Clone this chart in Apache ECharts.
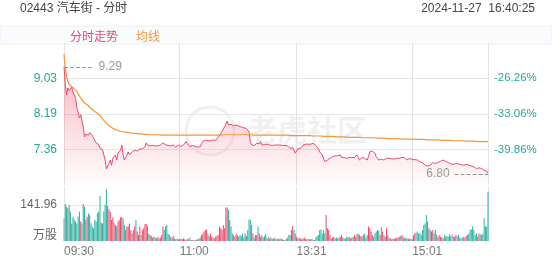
<!DOCTYPE html>
<html><head><meta charset="utf-8">
<script src="https://cdn.jsdelivr.net/npm/echarts@6/dist/echarts.min.js"></script>
<style>html,body{margin:0;padding:0;background:#fff}#c{width:552px;height:265px}</style>
</head><body><div id="c"></div>
<script>
const titleText = '02443 汽车街 - 分时';
const stampText = '2024-11-27  16:40:25';
const legendNames = ['分时走势', '均线'];
const prevClose = 12.24;
const pctTicks = [-26.26, -33.06, -39.86];
const volTick = 141.96;
const volUnit = '万股';
const timeTicks = ['09:30', '11:00', '13:31', '15:01'];

const price = [
9.29,8.90,8.64,8.80,8.74,8.70,8.82,8.70,8.66,8.57,
8.34,8.24,8.10,8.18,8.14,7.89,7.66,7.72,7.74,7.70,
7.76,7.73,7.70,7.63,7.59,7.52,7.50,7.48,7.40,7.44,
7.36,7.24,7.12,6.91,6.98,7.04,7.12,7.00,7.16,7.20,
7.24,7.12,7.28,7.31,7.35,7.47,7.24,7.12,7.18,7.24,
7.31,7.24,7.28,7.31,7.30,7.35,7.31,7.33,7.35,7.38,
7.36,7.38,7.40,7.43,7.52,7.47,7.43,7.45,7.44,7.46,
7.47,7.45,7.43,7.45,7.46,7.47,7.49,7.52,7.49,7.48,
7.47,7.46,7.45,7.45,7.46,7.47,7.44,7.42,7.40,7.47,
7.43,7.44,7.45,7.47,7.50,7.55,7.50,7.47,7.43,7.45,
7.46,7.47,7.44,7.40,7.42,7.44,7.43,7.50,7.55,7.57,
7.58,7.59,7.57,7.55,7.57,7.58,7.59,7.60,7.58,7.61,
7.65,7.70,7.74,7.78,7.82,7.90,7.96,8.03,7.94,7.98,
7.95,7.94,7.92,7.93,7.94,7.92,7.91,7.90,7.89,7.88,
7.87,7.88,7.86,7.83,7.78,7.55,7.47,7.51,7.46,7.43,
7.51,7.47,7.50,7.55,7.47,7.49,7.48,7.47,7.49,7.48,
7.47,7.48,7.46,7.47,7.47,7.48,7.47,7.46,7.47,7.45,
7.46,7.47,7.46,7.45,7.45,7.43,7.39,7.40,7.41,7.39,
7.28,7.33,7.39,7.38,7.39,7.43,7.47,7.48,7.49,7.51,
7.49,7.47,7.49,7.50,7.51,7.48,7.46,7.43,7.39,7.31,
7.27,7.24,7.20,7.08,7.10,7.12,7.14,7.16,7.18,7.20,
7.24,7.22,7.20,7.22,7.21,7.24,7.18,7.20,7.18,7.17,
7.16,7.19,7.18,7.20,7.18,7.16,7.18,7.20,7.24,7.18,
7.12,7.16,7.18,7.20,7.16,7.14,7.12,7.20,7.31,7.32,
7.33,7.31,7.28,7.20,7.16,7.12,7.16,7.14,7.15,7.12,
7.14,7.16,7.15,7.16,7.17,7.15,7.12,7.14,7.15,7.16,
7.17,7.16,7.16,7.18,7.20,7.18,7.15,7.12,7.14,7.16,
7.14,7.13,7.12,7.13,7.12,7.12,7.10,7.08,7.07,7.06,
7.04,7.00,6.96,6.98,7.01,7.00,7.03,7.06,7.05,7.04,
7.04,7.06,7.08,7.09,7.10,7.12,7.10,7.09,7.08,7.06,
7.04,7.03,7.03,7.02,7.03,7.04,7.04,7.03,7.02,7.01,
7.00,7.00,7.01,7.02,7.01,7.00,6.99,6.98,6.97,6.96,
6.94,6.92,6.93,6.94,6.94,6.92,6.90,6.88,6.87,6.86,6.80
];

const avgPrice = [
9.59,9.25,9.07,8.95,8.88,8.86,8.84,8.81,8.78,8.75,
8.72,8.67,8.61,8.57,8.52,8.48,8.45,8.43,8.41,8.38,
8.35,8.32,8.30,8.27,8.25,8.23,8.21,8.19,8.16,8.12,
8.08,8.05,8.01,7.98,7.95,7.93,7.90,7.88,7.86,7.84,
7.83,7.82,7.81,7.80,7.79,7.79,7.78,7.78,7.77,7.77,
7.76,7.76,7.75,7.75,7.74,7.74,7.74,7.73,7.73,7.73,
7.73,7.72,7.72,7.72,7.72,7.72,7.71,7.71,7.71,7.71,
7.71,7.71,7.71,7.71,7.71,7.70,7.70,7.70,7.70,7.70,
7.70,7.70,7.70,7.70,7.70,7.70,7.70,7.70,7.70,7.70,
7.70,7.70,7.70,7.70,7.70,7.70,7.70,7.70,7.70,7.70,
7.70,7.70,7.70,7.70,7.70,7.70,7.70,7.70,7.70,7.70,
7.70,7.70,7.70,7.70,7.70,7.70,7.70,7.70,7.70,7.70,
7.70,7.70,7.70,7.70,7.71,7.71,7.71,7.71,7.71,7.71,
7.71,7.71,7.71,7.71,7.71,7.71,7.71,7.71,7.71,7.71,
7.71,7.71,7.71,7.71,7.71,7.71,7.71,7.70,7.70,7.70,
7.70,7.70,7.70,7.70,7.70,7.70,7.70,7.70,7.70,7.70,
7.70,7.70,7.70,7.70,7.70,7.70,7.70,7.70,7.70,7.70,
7.70,7.70,7.70,7.70,7.70,7.69,7.69,7.69,7.69,7.69,
7.69,7.69,7.69,7.69,7.69,7.69,7.69,7.69,7.69,7.69,
7.69,7.69,7.69,7.69,7.68,7.68,7.68,7.68,7.68,7.68,
7.68,7.67,7.67,7.67,7.67,7.67,7.67,7.67,7.67,7.67,
7.67,7.66,7.66,7.66,7.66,7.66,7.66,7.66,7.66,7.66,
7.65,7.65,7.65,7.65,7.65,7.65,7.65,7.65,7.65,7.65,
7.65,7.65,7.64,7.64,7.64,7.64,7.64,7.64,7.64,7.64,
7.64,7.64,7.64,7.63,7.63,7.63,7.63,7.63,7.63,7.63,
7.63,7.63,7.62,7.62,7.62,7.62,7.62,7.62,7.62,7.62,
7.62,7.62,7.61,7.61,7.61,7.61,7.61,7.61,7.61,7.61,
7.61,7.61,7.61,7.60,7.60,7.60,7.60,7.60,7.60,7.60,
7.60,7.60,7.59,7.59,7.59,7.59,7.59,7.59,7.59,7.59,
7.59,7.59,7.59,7.59,7.58,7.58,7.58,7.58,7.58,7.58,
7.58,7.58,7.57,7.57,7.57,7.57,7.57,7.57,7.57,7.57,
7.57,7.56,7.56,7.56,7.56,7.56,7.56,7.56,7.56,7.56,
7.56,7.56,7.55,7.55,7.55,7.55,7.55,7.55,7.55,7.55,7.55
];

const volume = [
90,146,135,129,142,116,69,96,85,77,
69,96,116,77,69,146,135,85,96,109,
103,69,57,50,83,77,109,116,177,72,
69,116,142,204,138,125,116,83,93,72,
63,57,77,83,93,96,89,63,43,57,
57,69,43,30,43,57,83,37,24,57,
24,43,50,67,67,57,30,24,20,14,
17,14,10,17,10,14,24,57,43,57,
63,30,24,17,14,20,10,7,10,7,
7,9,7,10,7,4,9,7,14,4,
3,3,4,5,7,9,14,24,30,37,
43,46,30,20,30,17,14,10,17,20,
24,57,50,43,63,50,132,132,122,83,
57,30,24,17,30,24,17,24,20,30,
14,30,20,43,85,83,63,30,14,24,
24,57,30,17,24,14,20,28,10,17,
10,14,9,10,14,7,10,7,9,10,
7,4,4,9,14,24,24,43,59,43,
30,17,10,14,10,7,10,14,9,7,
9,7,7,9,4,4,14,20,24,43,
46,30,43,30,103,50,43,24,10,14,
17,10,14,10,14,17,24,14,10,10,
17,14,17,10,14,17,24,17,27,30,
24,20,17,24,30,14,24,57,50,37,
24,17,30,37,43,41,24,55,37,24,
17,50,24,14,10,7,10,9,10,14,
14,17,20,24,17,10,14,10,10,7,
9,7,24,30,33,37,30,33,24,43,
63,69,103,77,50,43,37,43,30,43,
27,17,24,17,14,10,24,17,20,17,
27,20,27,17,17,24,20,24,14,10,
14,17,14,20,24,30,43,46,57,43,
24,30,17,30,27,24,30,90,57,57,194
];

function buildTimes() {
  const t = [];
  const add = (a, b) => { for (let m = a; m <= b; m++) t.push(String(Math.floor(m / 60)).padStart(2, '0') + ':' + String(m % 60).padStart(2, '0')); };
  add(9 * 60 + 30, 12 * 60);
  add(13 * 60 + 1, 16 * 60);
  return t;
}
const times = buildTimes();

const RED = '#f0486a', TEAL = '#26b3a3', GRAY = '#8d9ca6', ORANGE = '#f3963a', AXIS_TEAL = '#23a89b';
const FONT = '"Liberation Sans", Arial, "Noto Sans CJK SC", sans-serif';

const r2 = v => Math.round(v * 100) / 100;
const pctStep = r2(pctTicks[0] - pctTicks[1]);
const pctMax = r2(pctTicks[0] + pctStep);
const pctMin = r2(pctTicks[pctTicks.length - 1] - pctStep);
const pMax = prevClose * (1 + pctMax / 100);
const pMin = prevClose * (1 + pctMin / 100);
const pStep = prevClose * pctStep / 100;

const tickIdx = timeTicks.map(t => times.indexOf(t));
const gridIdx = tickIdx.concat([times.length - 1]);

let maxI = 0, minI = 0;
price.forEach((v, i) => { if (v > price[maxI]) maxI = i; if (v < price[minI]) minI = i; });

function barColor(i) {
  if (i === 0) return GRAY;
  if (price[i] > price[i - 1]) return RED;
  if (price[i] < price[i - 1]) return TEAL;
  return GRAY;
}

const chart = echarts.init(document.getElementById('c'), null, { renderer: 'canvas' });
chart.setOption({
  animation: false,
  backgroundColor: '#fff',
  textStyle: { fontFamily: FONT },
  graphic: [
    { type: 'rect', z: -10, shape: { x: 0, y: 26, width: 552, height: 18 }, style: { fill: '#fafbfd', stroke: '#eceff3', lineWidth: 1 } },
    { type: 'text', left: 20, top: 3, style: { text: titleText, fill: '#444', font: '12px ' + FONT } },
    { type: 'text', right: 17, top: 3, style: { text: stampText, fill: '#444', font: '12px ' + FONT } },
    { type: 'circle', z: -5, shape: { cx: 210, cy: 131, r: 24 }, style: { fill: 'none', stroke: 'rgba(0,0,0,0.06)', lineWidth: 3 } },
    { type: 'text', z: -5, left: 247, top: 115, style: { text: '老虎社区', fill: 'rgba(0,0,0,0.06)', font: 'bold 30px "Noto Sans CJK SC"' } }
  ],
  legend: {
    left: 59, top: 27, itemWidth: 0, itemHeight: 0, itemGap: 12,
    data: [
      { name: legendNames[0], textStyle: { color: RED } },
      { name: legendNames[1], textStyle: { color: ORANGE } }
    ],
    textStyle: { fontSize: 12, fontFamily: FONT }
  },
  grid: [
    { left: 64, right: 64, top: 42.6, height: 142.8 },
    { left: 64, right: 64, top: 187, height: 54 }
  ],
  xAxis: [
    { type: 'category', gridIndex: 0, data: times, boundaryGap: false,
      axisLine: { show: false }, axisTick: { show: false }, axisLabel: { show: false },
      splitLine: { show: true, interval: (i) => gridIdx.includes(i), lineStyle: { color: '#e3e3e3', width: 1 } } },
    { type: 'category', gridIndex: 1, data: times, boundaryGap: false,
      axisLine: { show: false }, axisTick: { show: false },
      axisLabel: { show: true, interval: (i) => tickIdx.includes(i), align: 'left', margin: 5, color: '#777', fontSize: 12, fontFamily: FONT },
      splitLine: { show: true, interval: (i) => gridIdx.includes(i), lineStyle: { color: '#e3e3e3', width: 1 } } }
  ],
  yAxis: [
    { type: 'value', gridIndex: 0, min: pMin, max: pMax, interval: pStep, position: 'left',
      axisLine: { show: false }, axisTick: { show: false },
      axisLabel: { color: AXIS_TEAL, fontSize: 12, margin: 7, showMinLabel: false, showMaxLabel: false, formatter: v => v.toFixed(2), fontFamily: FONT },
      splitLine: { show: true, showMinLine: false, showMaxLine: false, lineStyle: { color: '#e6e6e6' } } },
    { type: 'value', gridIndex: 0, min: pctMin, max: pctMax, interval: pctStep, position: 'right',
      axisLine: { show: false }, axisTick: { show: false },
      axisLabel: { color: AXIS_TEAL, fontSize: 11.5, margin: 6, showMinLabel: false, showMaxLabel: false, formatter: v => v.toFixed(2) + '%', fontFamily: FONT },
      splitLine: { show: false } },
    { type: 'value', gridIndex: 1, min: 0, max: volTick * 1.5, interval: volTick,
      axisLine: { show: false }, axisTick: { show: false },
      axisLabel: { color: '#666', fontSize: 12, margin: 7, showMaxLabel: false, fontFamily: FONT,
        formatter: v => v === 0 ? '{u|' + volUnit + '}' : v.toFixed(2),
        rich: { u: { color: '#666', fontSize: 12, padding: [0, 0, 10, 0], fontFamily: FONT } } },
      splitLine: { show: true, showMinLine: false, showMaxLine: false, lineStyle: { color: '#e6e6e6' } } }
  ],
  series: [
    { name: legendNames[0], type: 'line', xAxisIndex: 0, yAxisIndex: 0, data: price, symbol: 'none', z: 3,
      lineStyle: { color: RED, width: 1 }, itemStyle: { color: RED },
      areaStyle: { origin: 'start', color: new echarts.graphic.LinearGradient(0, 0, 0, 1, [
        { offset: 0, color: 'rgba(241,72,104,0.55)' }, { offset: 1, color: 'rgba(241,72,104,0.02)' }]) },
      markLine: { silent: true, symbol: ['none', 'none'], animation: false,
        lineStyle: { color: '#999', type: 'dashed', width: 1 },
        label: { color: '#999', fontSize: 12, fontFamily: FONT },
        data: [
          [{ coord: [maxI, price[maxI]], label: { position: 'end', formatter: price[maxI].toFixed(2) } }, { coord: [maxI + 23, price[maxI]] }],
          [{ coord: [minI - 26, price[minI]], label: { position: 'start', formatter: price[minI].toFixed(2) } }, { coord: [minI, price[minI]] }]
        ] } },
    { name: legendNames[1], type: 'line', xAxisIndex: 0, yAxisIndex: 0, data: avgPrice, symbol: 'none', z: 4,
      lineStyle: { color: ORANGE, width: 1.2 }, itemStyle: { color: ORANGE } },
    { name: 'vol', type: 'bar', xAxisIndex: 1, yAxisIndex: 2, barWidth: 1,
      data: volume.map((v, i) => ({ value: v, itemStyle: { color: barColor(i) } })) }
  ]
});
</script></body></html>
